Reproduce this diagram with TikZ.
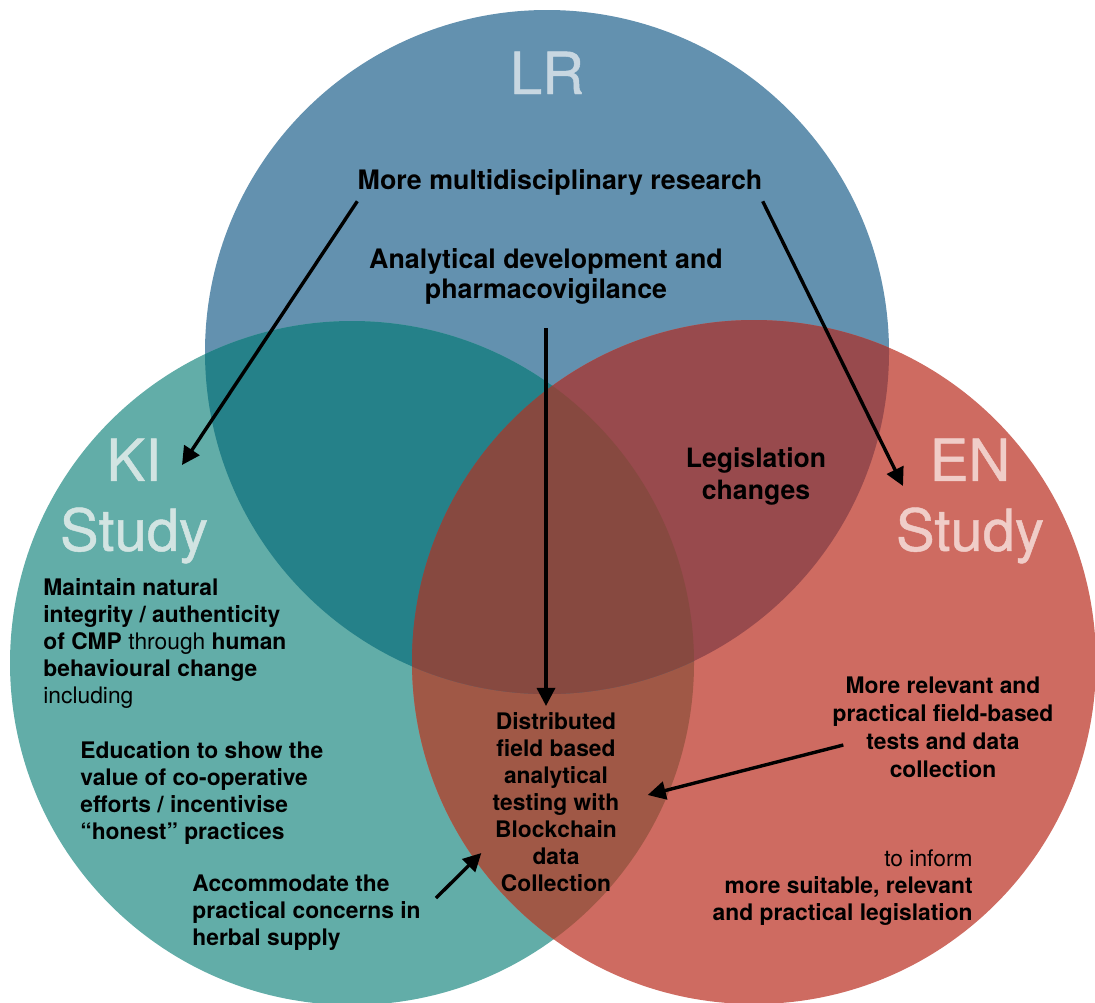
\documentclass[tikz,border=0pt]{standalone}
\usepackage{fontspec}
\setmainfont{TeX Gyre Heros}
\usepackage{tikz}
\usetikzlibrary{arrows.meta,positioning}
\definecolor{lrBlue}{RGB}{99,145,175}
\definecolor{kiTeal}{RGB}{98,173,168}
\definecolor{enRed}{RGB}{206,107,97}
\definecolor{lrKi}{RGB}{37,129,137}
\definecolor{lrEn}{RGB}{152,74,77}
\definecolor{kiEn}{RGB}{160,88,70}
\definecolor{allThree}{RGB}{135,73,64}
\definecolor{lrText}{RGB}{200,215,225}
\definecolor{kiText}{RGB}{210,228,226}
\definecolor{enText}{RGB}{240,205,200}

\begin{document}
\begin{tikzpicture}[x=0.5pt, y=-0.5pt,
    txt/.style={inner sep=0pt, font=\fontsize{11.4}{13.5}\selectfont\bfseries},
    headTxt/.style={inner sep=0pt, font=\fontsize{13.4}{15}\selectfont\bfseries},
    bigLabel/.style={inner sep=0pt, font=\fontsize{29}{35}\selectfont\addfontfeatures{FakeBold=0.8}},
    conn/.style={-{Triangle[length=9pt,width=9pt]}, line width=1.7pt}]
    \useasboundingbox (0,0) rectangle (1095,1002);

    % Circle centres
    \coordinate (cLR) at (547,352);
    \coordinate (cKI) at (352,663);
    \coordinate (cEN) at (754,662);

    % Circles
    \fill[lrBlue] (cLR) circle[radius=171pt];
    \fill[kiTeal] (cKI) circle[radius=171pt];
    \fill[enRed] (cEN) circle[radius=171pt];

    % Overlaps
    \begin{scope}
        \clip (cKI) circle[radius=171pt];
        \fill[kiEn] (cEN) circle[radius=171pt];
    \end{scope}
    \begin{scope}
        \clip (cLR) circle[radius=171pt];
        \fill[lrKi] (cKI) circle[radius=171pt];
        \fill[lrEn] (cEN) circle[radius=171pt];
        \clip (cKI) circle[radius=171pt];
        \fill[allThree] (cEN) circle[radius=171pt];
    \end{scope}

    % Big labels
    \node[bigLabel, text=lrText, anchor=base] (lr) at (547,94) {LR};
    \node[bigLabel, text=kiText, align=center] (ki) at (134,501) {KI\\Study};
    \node[bigLabel, text=enText, align=center] (en) at (970,501) {EN\\Study};

    % LR texts
    \node[headTxt, anchor=base] (multi) at (560,189) {More multidisciplinary research};
    \node[headTxt, align=center] (analyt) at (546,276) {Analytical development and\\pharmacovigilance};
    \node[headTxt, align=center, font=\fontsize{13.3}{16}\selectfont\bfseries] (legis) at (756,476) {Legislation\\changes};

    % Centre
    \node[txt, align=center] (dist) at (556,802) {Distributed\\field based\\analytical\\testing with\\Blockchain\\data\\Collection};

    % KI texts
    \node[txt, align=left, anchor=west] (maint) at (43,643) {Maintain natural\\integrity / authenticity\\of CMP {\mdseries through} human\\behavioural change\\{\mdseries including}};
    \node[txt, align=left, anchor=west] (educ) at (80,793) {Education to show the\\value of co-operative\\efforts / incentivise\\``honest'' practices};
    \node[txt, align=left, anchor=west] (accom) at (192,913) {Accommodate the\\practical concerns in\\herbal supply};

    % EN texts
    \node[txt, align=center, font=\fontsize{11.4}{14}\selectfont\bfseries] (relev) at (943,727) {More relevant and\\practical field-based\\tests and data\\collection};
    \node[txt, align=right, anchor=east] (inform) at (973,888) {{\mdseries to inform}\\more suitable, relevant\\and practical legislation};

    % Arrows
    \coordinate (kiTip) at (182,465);
    \coordinate (enTip) at (903,486);
    \draw[conn] ([yshift=-3pt]multi.south west) -- (kiTip);
    \draw[conn] ([yshift=-3pt]multi.south east) -- (enTip);
    \draw[conn] ([yshift=-12pt]analyt.south) -- ([xshift=-5pt,yshift=3pt]dist.north);
    \draw[conn] ([xshift=5.5pt,yshift=-9pt]relev.west) -- ([xshift=14pt,yshift=3.5pt]dist.east);
    \draw[conn] ([xshift=7.5pt,yshift=7.5pt]accom.east) -- ([xshift=-5.5pt,yshift=19.5pt]dist.south west);
\end{tikzpicture}
\end{document}
